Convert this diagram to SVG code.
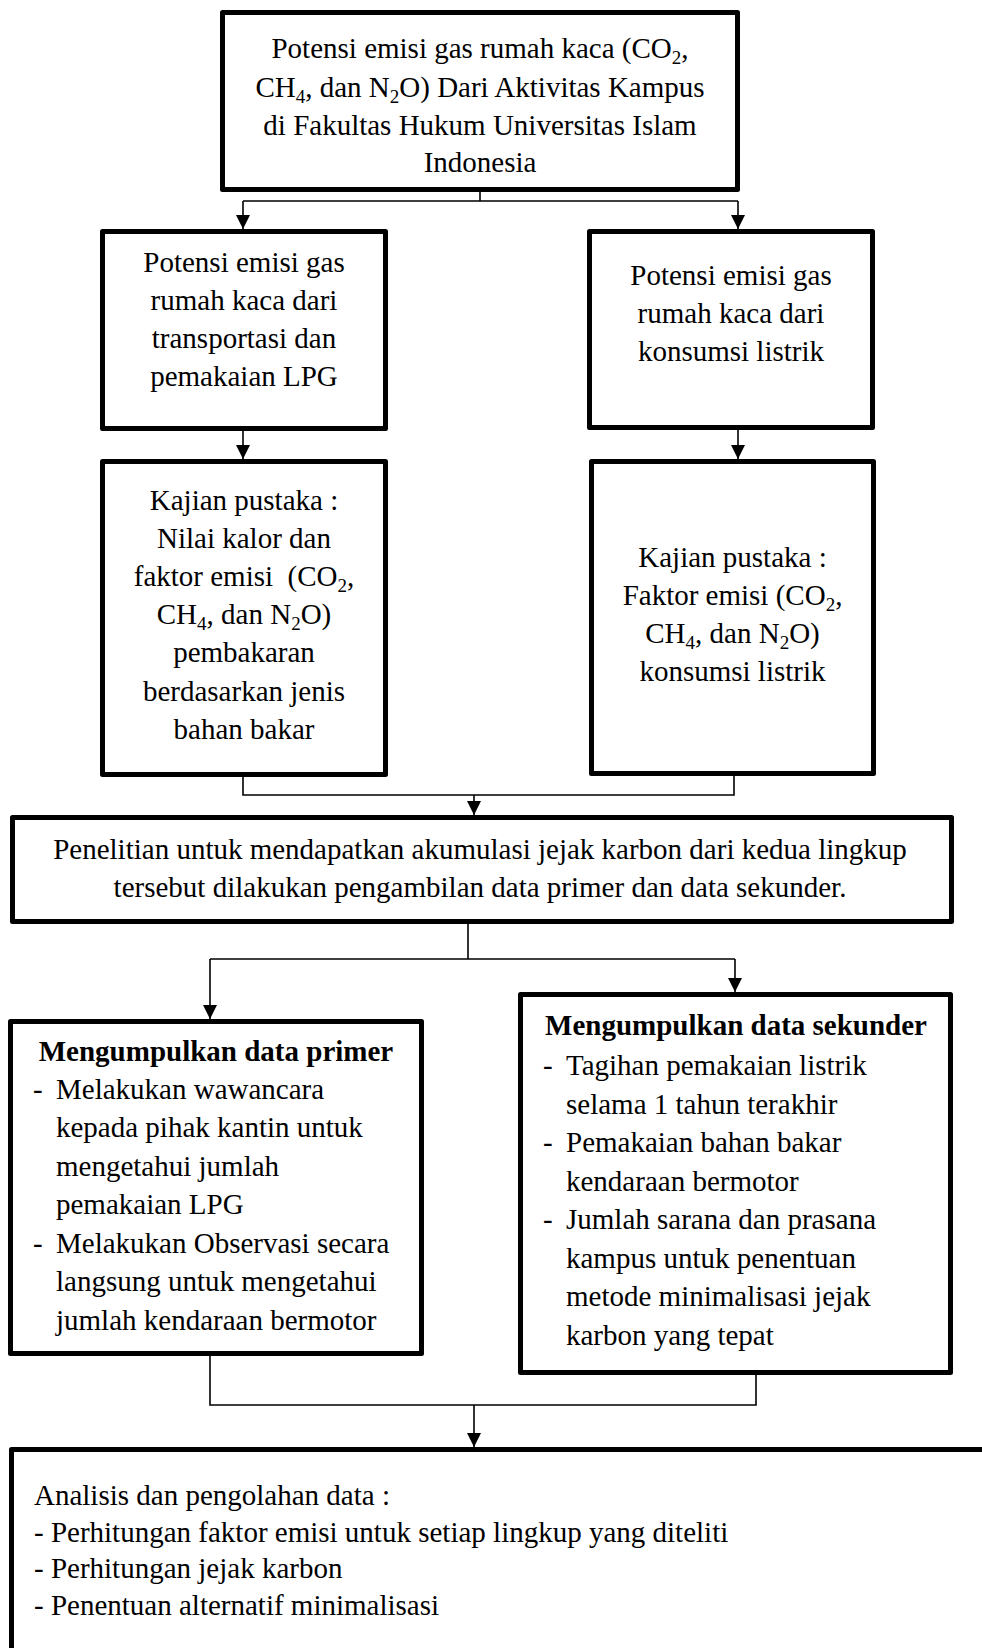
<svg xmlns="http://www.w3.org/2000/svg" width="982" height="1648" viewBox="0 0 982 1648">
<defs>
<style>
.box{fill:#fff;stroke:#000;stroke-width:5;stroke-linejoin:round}
.ln{fill:none;stroke:#000;stroke-width:1.6}
text{font-family:"Liberation Serif","Times New Roman",serif;font-size:29px;fill:#000}
.c{text-anchor:middle}
.b{font-weight:bold}
</style>
<marker id="arr" viewBox="0 0 14 14" refX="14" refY="7" markerWidth="14" markerHeight="14" markerUnits="userSpaceOnUse" orient="auto">
<path d="M0,0 L14,7 L0,14 Z" fill="#000"/>
</marker>
</defs>
<rect width="982" height="1648" fill="#fff"/>

<g id="connectors">
<path class="ln" d="M480,192 V201 M243,201 H738"/>
<path class="ln" d="M243,201 V229" marker-end="url(#arr)"/>
<path class="ln" d="M738,201 V229" marker-end="url(#arr)"/>
<path class="ln" d="M243,431 V459" marker-end="url(#arr)"/>
<path class="ln" d="M738,430 V459" marker-end="url(#arr)"/>
<path class="ln" d="M243,777 V795 H734 V776"/>
<path class="ln" d="M474,795 V815" marker-end="url(#arr)"/>
<path class="ln" d="M468,924 V959 M210,959 H735"/>
<path class="ln" d="M210,959 V1019" marker-end="url(#arr)"/>
<path class="ln" d="M735,959 V992" marker-end="url(#arr)"/>
<path class="ln" d="M210,1356 V1405 H756 V1375"/>
<path class="ln" d="M474,1405 V1447" marker-end="url(#arr)"/>
</g>

<g id="n-top">
<rect class="box" x="222.5" y="12.5" width="515" height="177"/>
<text class="c" x="480" y="58">Potensi emisi gas rumah kaca (CO<tspan font-size="19" dy="6">2</tspan><tspan dy="-6">,</tspan></text>
<text class="c" x="480" y="96.5">CH<tspan font-size="19" dy="6">4</tspan><tspan dy="-6">, dan N</tspan><tspan font-size="19" dy="6">2</tspan><tspan dy="-6">O) Dari Aktivitas Kampus</tspan></text>
<text class="c" x="480" y="135">di Fakultas Hukum Universitas Islam</text>
<text class="c" x="480" y="172">Indonesia</text>
</g>

<g id="n-transport">
<rect class="box" x="102.5" y="231.5" width="283" height="197"/>
<text class="c" x="244" y="272">Potensi emisi gas</text>
<text class="c" x="244" y="310">rumah kaca dari</text>
<text class="c" x="244" y="348">transportasi dan</text>
<text class="c" x="244" y="386">pemakaian LPG</text>
</g>

<g id="n-listrik">
<rect class="box" x="589.5" y="231.5" width="283" height="196"/>
<text class="c" x="731" y="285">Potensi emisi gas</text>
<text class="c" x="731" y="323">rumah kaca dari</text>
<text class="c" x="731" y="361">konsumsi listrik</text>
</g>

<g id="n-kajian1">
<rect class="box" x="102.5" y="461.5" width="283" height="313"/>
<text class="c" x="244" y="509.5">Kajian pustaka :</text>
<text class="c" x="244" y="547.7">Nilai kalor dan</text>
<text class="c" x="244" y="585.9">faktor emisi&#160; (CO<tspan font-size="19" dy="6">2</tspan><tspan dy="-6">,</tspan></text>
<text class="c" x="244" y="624.1">CH<tspan font-size="19" dy="6">4</tspan><tspan dy="-6">, dan N</tspan><tspan font-size="19" dy="6">2</tspan><tspan dy="-6">O)</tspan></text>
<text class="c" x="244" y="662.3">pembakaran</text>
<text class="c" x="244" y="700.5">berdasarkan jenis</text>
<text class="c" x="244" y="738.7">bahan bakar</text>
</g>

<g id="n-kajian2">
<rect class="box" x="591.5" y="461.5" width="282" height="312"/>
<text class="c" x="732.5" y="567">Kajian pustaka :</text>
<text class="c" x="732.5" y="605">Faktor emisi (CO<tspan font-size="19" dy="6">2</tspan><tspan dy="-6">,</tspan></text>
<text class="c" x="732.5" y="643">CH<tspan font-size="19" dy="6">4</tspan><tspan dy="-6">, dan N</tspan><tspan font-size="19" dy="6">2</tspan><tspan dy="-6">O)</tspan></text>
<text class="c" x="732.5" y="681">konsumsi listrik</text>
</g>

<g id="n-penelitian">
<rect class="box" x="12.5" y="817.5" width="939" height="104"/>
<text class="c" x="480" y="859">Penelitian untuk mendapatkan akumulasi jejak karbon dari kedua lingkup</text>
<text class="c" x="480" y="897">tersebut dilakukan pengambilan data primer dan data sekunder.</text>
</g>

<g id="n-primer">
<rect class="box" x="10.5" y="1021.5" width="411" height="332"/>
<text class="c b" x="216" y="1060.5">Mengumpulkan data primer</text>
<text x="33" y="1098.5">-</text><text x="56" y="1098.5">Melakukan wawancara</text>
<text x="56" y="1137">kepada pihak kantin untuk</text>
<text x="56" y="1175.5">mengetahui jumlah</text>
<text x="56" y="1214">pemakaian LPG</text>
<text x="33" y="1252.5">-</text><text x="56" y="1252.5">Melakukan Observasi secara</text>
<text x="56" y="1291">langsung untuk mengetahui</text>
<text x="56" y="1329.5">jumlah kendaraan bermotor</text>
</g>

<g id="n-sekunder">
<rect class="box" x="520.5" y="994.5" width="430" height="378"/>
<text class="c b" x="736" y="1035">Mengumpulkan data sekunder</text>
<text x="543" y="1075">-</text><text x="566" y="1075">Tagihan pemakaian listrik</text>
<text x="566" y="1113.5">selama 1 tahun terakhir</text>
<text x="543" y="1152">-</text><text x="566" y="1152">Pemakaian bahan bakar</text>
<text x="566" y="1190.5">kendaraan bermotor</text>
<text x="543" y="1229">-</text><text x="566" y="1229">Jumlah sarana dan prasana</text>
<text x="566" y="1267.5">kampus untuk penentuan</text>
<text x="566" y="1306">metode minimalisasi jejak</text>
<text x="566" y="1344.5">karbon yang tepat</text>
</g>

<g id="n-analisis">
<rect class="box" x="11.5" y="1449.5" width="1000" height="300"/>
<text x="34" y="1505">Analisis dan pengolahan data :</text>
<text x="34" y="1541.5">- Perhitungan faktor emisi untuk setiap lingkup yang diteliti</text>
<text x="34" y="1578">- Perhitungan jejak karbon</text>
<text x="34" y="1614.5">- Penentuan alternatif minimalisasi</text>
</g>
</svg>
